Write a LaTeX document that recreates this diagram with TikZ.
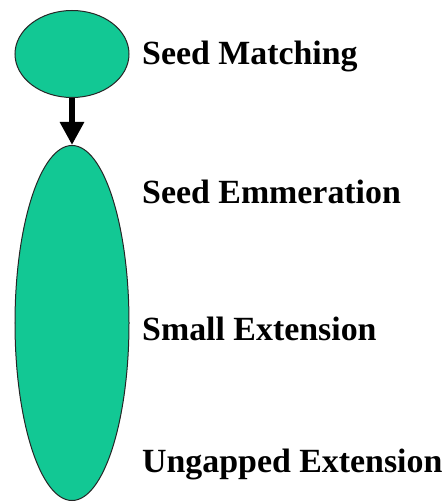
\documentclass[tikz,border=0pt]{standalone}
\usepackage{fontspec}
\setmainfont{Liberation Serif}
\usetikzlibrary{arrows.meta,shapes.geometric,positioning}
\definecolor{seagreen}{RGB}{18,200,148}

\begin{document}
\begin{tikzpicture}[x=1bp,y=-1bp,
  stage/.style={ellipse,draw=black!85,line width=1bp,fill=seagreen,inner sep=0pt,minimum width=114bp,minimum height=#1},
  lbl/.style={anchor=base west,inner sep=0pt,font=\fontsize{34}{40}\selectfont\bfseries}]
  \useasboundingbox (0,0) rectangle (444,504);
  % ---------- stages
  \node[stage=87bp] (match) at (72,54) {};
  \node[stage=355bp] (scan) at (72,323) {};
  \draw[line width=6bp,-{Triangle[width=23bp,length=23bp]}] (match.south) -- (scan.north);
  % ---------- labels
  \node[lbl] (tmatch) at (142,65) {Seed Matching};
  \node[lbl] (tenum) at (142,203) {Seed Emmeration};
  \node[lbl] (tsmall) at (142,340) {Small Extension};
  \node[lbl] (tungap) at (142,472) {Ungapped Extension};
\end{tikzpicture}
\end{document}
